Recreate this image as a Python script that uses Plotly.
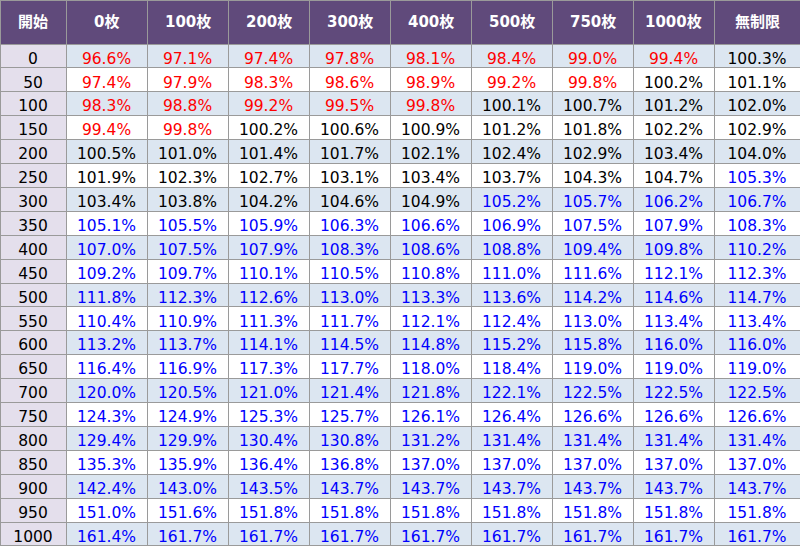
import plotly.graph_objects as go

columns = ['開始', '0枚', '100枚', '200枚', '300枚', '400枚', '500枚', '750枚', '1000枚', '無制限']
starts = [0, 50, 100, 150, 200, 250, 300, 350, 400, 450, 500,
          550, 600, 650, 700, 750, 800, 850, 900, 950, 1000]

v_0 = [96.6, 97.4, 98.3, 99.4, 100.5, 101.9, 103.4, 105.1, 107.0, 109.2, 111.8,
       110.4, 113.2, 116.4, 120.0, 124.3, 129.4, 135.3, 142.4, 151.0, 161.4]
v_100 = [97.1, 97.9, 98.8, 99.8, 101.0, 102.3, 103.8, 105.5, 107.5, 109.7, 112.3,
         110.9, 113.7, 116.9, 120.5, 124.9, 129.9, 135.9, 143.0, 151.6, 161.7]
v_200 = [97.4, 98.3, 99.2, 100.2, 101.4, 102.7, 104.2, 105.9, 107.9, 110.1, 112.6,
         111.3, 114.1, 117.3, 121.0, 125.3, 130.4, 136.4, 143.5, 151.8, 161.7]
v_300 = [97.8, 98.6, 99.5, 100.6, 101.7, 103.1, 104.6, 106.3, 108.3, 110.5, 113.0,
         111.7, 114.5, 117.7, 121.4, 125.7, 130.8, 136.8, 143.7, 151.8, 161.7]
v_400 = [98.1, 98.9, 99.8, 100.9, 102.1, 103.4, 104.9, 106.6, 108.6, 110.8, 113.3,
         112.1, 114.8, 118.0, 121.8, 126.1, 131.2, 137.0, 143.7, 151.8, 161.7]
v_500 = [98.4, 99.2, 100.1, 101.2, 102.4, 103.7, 105.2, 106.9, 108.8, 111.0, 113.6,
         112.4, 115.2, 118.4, 122.1, 126.4, 131.4, 137.0, 143.7, 151.8, 161.7]
v_750 = [99.0, 99.8, 100.7, 101.8, 102.9, 104.3, 105.7, 107.5, 109.4, 111.6, 114.2,
         113.0, 115.8, 119.0, 122.5, 126.6, 131.4, 137.0, 143.7, 151.8, 161.7]
v_1000 = [99.4, 100.2, 101.2, 102.2, 103.4, 104.7, 106.2, 107.9, 109.8, 112.1, 114.6,
          113.4, 116.0, 119.0, 122.5, 126.6, 131.4, 137.0, 143.7, 151.8, 161.7]
v_free = [100.3, 101.1, 102.0, 102.9, 104.0, 105.3, 106.7, 108.3, 110.2, 112.3, 114.7,
          113.4, 116.0, 119.0, 122.5, 126.6, 131.4, 137.0, 143.7, 151.8, 161.7]

series = [v_0, v_100, v_200, v_300, v_400, v_500, v_750, v_1000, v_free]

W, H = 800, 546
HEADER_H = 44
widths = [66] + [81] * 8 + [86]


def textcolor(v):
    if v < 100:
        return '#FF0000'
    if v < 105:
        return '#000000'
    return '#0000FF'


stripe = ['#DCE6F1' if i % 2 == 0 else '#FFFFFF' for i in range(len(starts))]

values = [[str(s) for s in starts]] + [[f'{v:.1f}%' for v in col] for col in series]
fills = [['#E4DFEC'] * len(starts)] + [stripe] * len(series)
fonts = [['#000000'] * len(starts)] + [[textcolor(v) for v in col] for col in series]

row_h = (H - HEADER_H) / len(starts)

fig = go.Figure(go.Table(
    columnwidth=widths,
    header=dict(
        values=[''] * len(columns),
        fill_color='#604A7B',
        line_color='#9A9A9A',
        font=dict(size=1, color='white'),
        height=HEADER_H,
    ),
    cells=dict(
        values=values,
        fill_color=fills,
        line_color='#9A9A9A',
        font=dict(family='DejaVu Sans, Noto Sans CJK JP', size=15.5, color=fonts),
        align='center',
        height=row_h,
    ),
    domain=dict(x=[0, 1], y=[0, 1]),
))

# header labels, centred vertically in the header band
x0 = 0
for name, w in zip(columns, widths):
    fig.add_annotation(
        x=(x0 + w / 2) / sum(widths), y=1 - (HEADER_H / 2) / H,
        xref='paper', yref='paper', xanchor='center', yanchor='middle',
        text=f'<b>{name}</b>', showarrow=False,
        font=dict(family='DejaVu Sans, Noto Sans CJK JP', size=15, color='white'),
    )
    x0 += w

fig.update_layout(width=W, height=H, margin=dict(l=0, r=0, t=0, b=0),
                  paper_bgcolor='white')

fig.write_html('out.html', config={'displayModeBar': False},
               post_script="document.body.style.margin='0';")
